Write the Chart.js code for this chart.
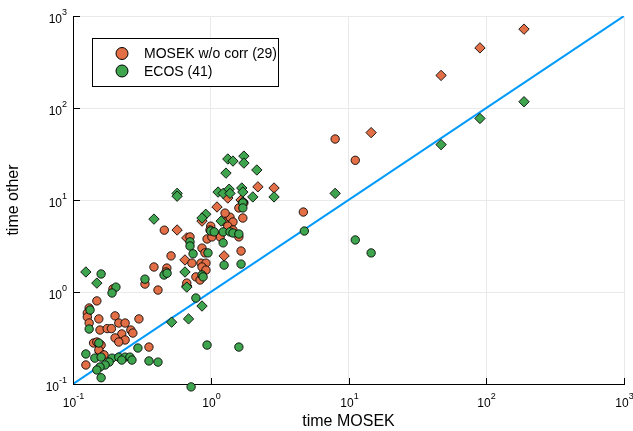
<!DOCTYPE html>
<html>
<head>
<meta charset="utf-8">
<script src="https://cdn.jsdelivr.net/npm/chart.js@4.4.1/dist/chart.umd.min.js"></script>
<style>
  html, body { margin: 0; padding: 0; background: #fff; }
  #wrap { position: relative; width: 633px; height: 431px; }
</style>
</head>
<body>
<div id="wrap"><canvas id="c" width="633" height="431"></canvas></div>
<script>
// --- data (time in seconds, log-log) ---
const seriesLabels = ['MOSEK w/o corr (29)', 'ECOS (41)'];
const decades = [0.1, 1, 10, 100, 1000];
const decadeExp = ['-1', '0', '1', '2', '3'];

// MOSEK w/o corr: circles and diamonds
const mosekCircX = [8.0, 11.2, 4.7, 0.46, 0.515, 0.387, 0.48, 0.474, 0.414, 0.195, 0.67, 1.0, 0.988, 1.04, 0.94, 1.27, 1.38, 1.45, 1.33, 1.45, 1.71, 1.6, 1.74, 1.6, 1.17, 1.02, 1.27, 0.864, 0.908, 0.73, 0.85, 0.923, 1.66, 0.864, 0.78, 0.836, 0.923, 0.707, 0.333, 0.149, 0.131, 0.127, 0.127, 0.131, 0.154, 0.202, 0.215, 0.239, 0.301, 0.157, 0.177, 0.19, 0.226, 0.263, 0.272, 0.202, 0.239, 0.215, 0.141, 0.149, 0.16, 0.154, 0.356, 0.168, 0.124];
const mosekCircY = [46, 27, 7.4, 4.7, 2.47, 1.87, 1.82, 1.65, 1.05, 1.08, 1.25, 5.2, 4.72, 4.17, 3.77, 5.77, 6.5, 5.77, 5.2, 4.72, 6.37, 8.2, 9.3, 3.97, 3.97, 3.97, 7.2, 3.0, 2.66, 2.06, 2.06, 2.06, 2.79, 1.87, 1.46, 1.35, 1.73, 3.97, 1.22, 0.80, 0.67, 0.59, 0.535, 0.46, 0.51, 0.55, 0.46, 0.46, 0.51, 0.386, 0.40, 0.40, 0.35, 0.386, 0.358, 0.317, 0.301, 0.286, 0.279, 0.286, 0.265, 0.234, 0.252, 0.207, 0.161];
const mosekDiamX = [188, 90, 47, 14.6, 2.2, 2.88, 1.31, 1.33, 1.11, 1.66, 0.864, 0.57, 0.67, 0.65, 1.25, 0.67, 0.157];
const mosekDiamY = [720, 450, 226, 54, 13.9, 13.5, 11.3, 10.5, 8.4, 10, 5.9, 4.72, 3.87, 2.23, 2.47, 1.16, 0.222];

// ECOS: circles and diamonds
const ecosCircX = [4.78, 11.2, 14.6, 1.71, 1.71, 1.0, 1.06, 1.23, 1.38, 1.45, 1.6, 0.707, 0.707, 0.744, 0.955, 1.23, 1.25, 1.66, 0.864, 0.88, 0.78, 0.94, 1.6, 0.72, 0.458, 0.482, 0.333, 0.205, 0.192, 0.16, 0.133, 0.131, 0.154, 0.296, 0.124, 0.144, 0.16, 0.192, 0.215, 0.239, 0.259, 0.268, 0.226, 0.183, 0.171, 0.157, 0.149, 0.356, 0.414, 0.16];
const ecosCircY = [4.6, 3.68, 2.66, 9.3, 8.2, 4.6, 4.5, 4.5, 4.5, 4.38, 4.27, 3.5, 3.16, 2.6, 2.66, 3.42, 1.96, 2.01, 1.53, 1.46, 0.86, 0.265, 0.252, 0.093, 1.53, 1.6, 1.38, 1.13, 0.975, 1.57, 0.637, 0.396, 0.279, 0.246, 0.212, 0.191, 0.196, 0.191, 0.196, 0.196, 0.196, 0.182, 0.182, 0.173, 0.161, 0.153, 0.142, 0.178, 0.173, 0.117];
const ecosDiamX = [188, 90, 47, 8.0, 1.33, 1.45, 1.74, 1.74, 1.29, 2.16, 0.57, 0.57, 1.13, 1.23, 1.36, 1.38, 1.68, 1.71, 2.02, 2.88, 1.71, 0.92, 0.864, 1.19, 0.387, 0.124, 0.149, 0.65, 0.67, 0.864, 0.69, 0.52];
const ecosDiamY = [117, 77, 40, 11.8, 27.9, 26.5, 30, 25.2, 19.6, 21.2, 11.8, 11.0, 12.2, 11.8, 13.1, 11.8, 13.5, 12.2, 10.8, 10.8, 9.5, 7.0, 6.37, 5.9, 6.2, 1.65, 1.25, 1.65, 1.13, 0.704, 0.51, 0.47];

// y = x reference line
const diagX = [0.1, 1000];
const diagY = [0.1, 1000];

const ORANGE = 'rgb(227,111,71)';
const GREEN = 'rgb(62,164,78)';
const BLUE = 'rgb(0,154,250)';
const FONT = '"Liberation Sans", Arial, Helvetica, sans-serif';

function pts(xs, ys) {
  return xs.map((x, i) => ({ x: x, y: ys[i] }));
}

function scatterSet(label, xs, ys, color, shape, r) {
  return {
    type: 'scatter',
    label: label,
    data: pts(xs, ys),
    pointStyle: shape,
    pointRadius: r,
    backgroundColor: color,
    borderColor: 'rgba(0,0,0,0.85)',
    borderWidth: 1,
    clip: false
  };
}

// fixed sizes so the plot box lands where the reference has it
function fitY(scale) { scale.width = 73; }
function fitX(scale) { scale.height = 47; }
function decadeTicks(scale) { scale.ticks = decades.map(v => ({ value: v })); }

// legend box inside the plot, top left
const legendBox = {
  id: 'legendBox',
  afterDraw(chart) {
    const ctx = chart.ctx;
    ctx.save();
    ctx.fillStyle = '#fff';
    ctx.fillRect(92.5, 38.5, 186, 48);
    ctx.strokeStyle = '#000';
    ctx.lineWidth = 1;
    ctx.strokeRect(92.5, 38.5, 186, 48);
    const colors = [ORANGE, GREEN];
    const rows = [53.5, 71];
    ctx.font = '14px ' + FONT;
    ctx.textBaseline = 'middle';
    ctx.textAlign = 'left';
    seriesLabels.forEach((lab, i) => {
      ctx.beginPath();
      ctx.arc(122, rows[i], 6, 0, Math.PI * 2);
      ctx.fillStyle = colors[i];
      ctx.fill();
      ctx.strokeStyle = '#000';
      ctx.stroke();
      ctx.fillStyle = '#000';
      ctx.fillText(lab, 144, rows[i] + 1);
    });
    ctx.restore();
  }
};

// 10^n tick labels with raised exponent, plus inward tick marks
const powerTicks = {
  id: 'powerTicks',
  afterDraw(chart) {
    const ctx = chart.ctx;
    const xs = chart.scales.x, ys = chart.scales.y;
    ctx.save();
    ctx.fillStyle = '#000';
    ctx.strokeStyle = '#000';
    ctx.lineWidth = 1;
    ctx.textBaseline = 'middle';
    ctx.textAlign = 'left';
    decades.forEach((v, i) => {
      const exp = decadeExp[i];
      ctx.font = '12px ' + FONT;
      const bw = ctx.measureText('10').width;
      ctx.font = '9px ' + FONT;
      const ew = ctx.measureText(exp).width;

      const px = Math.round(xs.getPixelForValue(v)) + 0.5;
      const left = px - (bw + ew) / 2;
      ctx.font = '12px ' + FONT;
      ctx.fillText('10', left, xs.top + 20);
      ctx.font = '9px ' + FONT;
      ctx.fillText(exp, left + bw, xs.top + 13);

      const py = Math.round(ys.getPixelForValue(v)) + 0.5;
      const right = ys.right - 6;
      ctx.font = '12px ' + FONT;
      ctx.fillText('10', right - ew - bw, py + 3);
      ctx.font = '9px ' + FONT;
      ctx.fillText(exp, right - ew, py - 4);

      ctx.beginPath();
      ctx.moveTo(ys.right, py);
      ctx.lineTo(ys.right + 7, py);
      ctx.moveTo(px, xs.top);
      ctx.lineTo(px, xs.top - 6);
      ctx.stroke();
    });
    ctx.restore();
  }
};

new Chart(document.getElementById('c'), {
  type: 'scatter',
  data: {
    datasets: [
      scatterSet('ECOS circles', ecosCircX, ecosCircY, GREEN, 'circle', 4.2),
      scatterSet('ECOS diamonds', ecosDiamX, ecosDiamY, GREEN, 'rectRot', 5.2),
      scatterSet('MOSEK circles', mosekCircX, mosekCircY, ORANGE, 'circle', 4.2),
      scatterSet('MOSEK diamonds', mosekDiamX, mosekDiamY, ORANGE, 'rectRot', 5.2),
      {
        type: 'line',
        label: 'y = x',
        data: pts(diagX, diagY),
        borderColor: BLUE,
        borderWidth: 2,
        pointRadius: 0,
        fill: false
      }
    ]
  },
  options: {
    responsive: false,
    animation: false,
    events: [],
    layout: { padding: { top: 16, right: 9, left: 0, bottom: 0 } },
    plugins: {
      legend: { display: false },
      tooltip: { enabled: false }
    },
    scales: {
      x: {
        type: 'logarithmic',
        min: 0.1,
        max: 1000,
        afterBuildTicks: decadeTicks,
        afterFit: fitX,
        ticks: { display: false },
        grid: { color: '#e9e9e9', drawTicks: false },
        border: { display: true, color: '#000', width: 1 },
        title: {
          display: true,
          text: 'time MOSEK',
          color: '#000',
          font: { family: FONT, size: 16 },
          padding: { top: 0, bottom: 0 }
        }
      },
      y: {
        type: 'logarithmic',
        min: 0.1,
        max: 1000,
        afterBuildTicks: decadeTicks,
        afterFit: fitY,
        ticks: { display: false },
        grid: { color: '#e9e9e9', drawTicks: false },
        border: { display: true, color: '#000', width: 1 },
        title: {
          display: true,
          text: 'time other',
          color: '#000',
          font: { family: FONT, size: 16 },
          padding: { top: 4, bottom: 0 }
        }
      }
    }
  },
  plugins: [legendBox, powerTicks]
});
</script>
</body>
</html>
